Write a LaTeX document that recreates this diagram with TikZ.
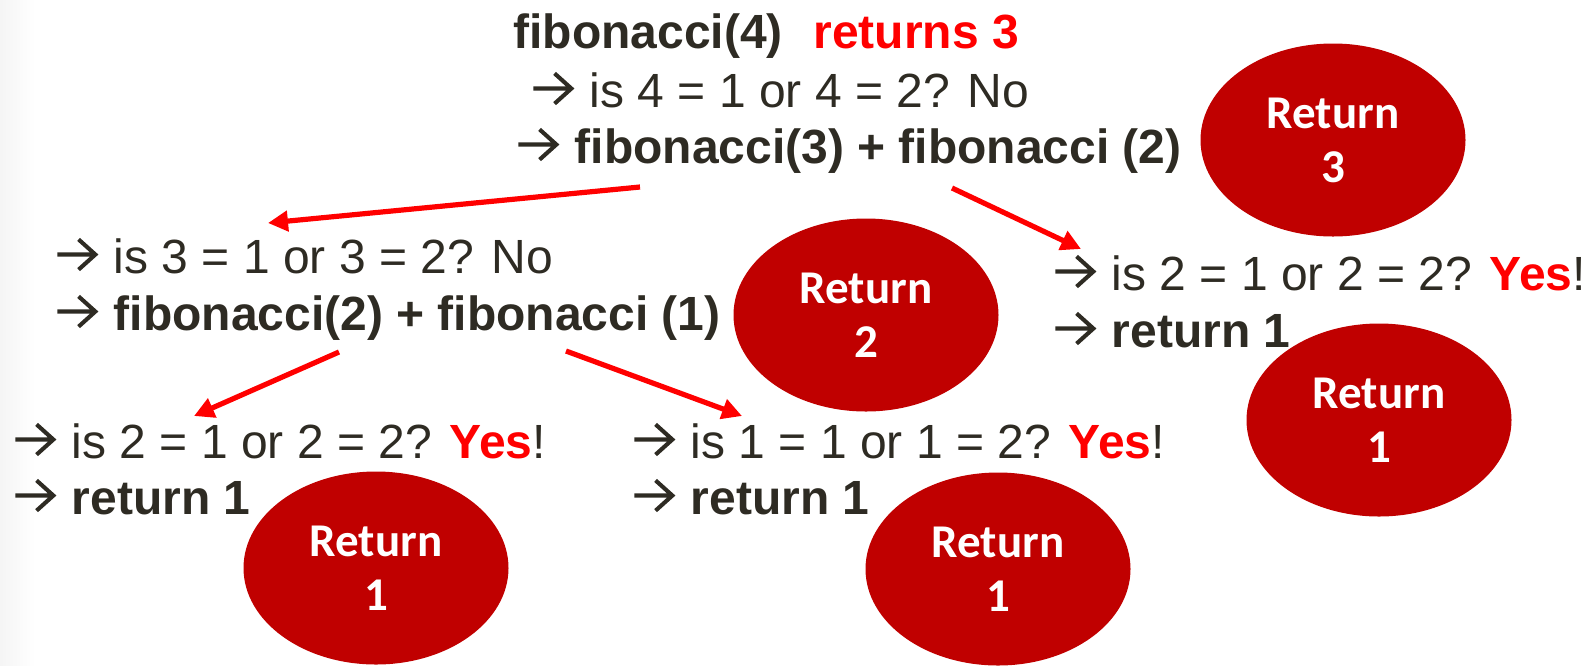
\documentclass[tikz,border=0pt]{standalone}
\usepackage{fontspec}
\setmainfont{Liberation Sans}
\newfontfamily\retfont{Carlito}
\usetikzlibrary{arrows.meta,shapes.geometric}
\definecolor{fbInk}{HTML}{2E2B23}
\definecolor{fbRed}{HTML}{FF0000}
\definecolor{fbDark}{HTML}{C00000}
% the small arrow in front of every step
\newcommand{\ra}{\tikz[x=1em,y=1em,baseline=0pt]
  \draw[fbInk,line width=0.085em,line cap=butt,line join=miter]
    (0,0.385) -- (0.78,0.385) (0.44,0.07) -- (0.79,0.385) -- (0.44,0.70);\hspace{0.34em}}
\newcommand{\yes}{\textcolor{fbRed}{\textbf{Yes}}}
\tikzset{
  txt/.style    ={anchor=base west,inner sep=0pt,text=fbInk,
                  font=\fontsize{24}{28}\selectfont},
  retell/.style ={ellipse,fill=fbDark,minimum width=132.5pt,minimum height=96.5pt,
                  inner sep=0pt,align=center,text=white,
                  font=\retfont\bfseries\fontsize{23.5}{27}\selectfont},
  call/.style   ={-{Triangle[length=10pt,width=10pt]},fbRed,line width=2.6pt},
}
\begin{document}
\begin{tikzpicture}[x=0.5pt,y=-0.5pt]
\useasboundingbox (0,0) rectangle (1583,665);
\shade[left color=black!4,right color=white] (0,0) rectangle (35,665);

%% return values
\node[retell] (ret3)  at (1333,140) {Return\\3};
\node[retell] (ret2)  at (866,315)  {Return\\2};
\node[retell] (retr)  at (1379,420) {Return\\1};
\node[retell] (retbl) at (376,568)  {Return\\1};
\node[retell] (retbm) at (998,569)  {Return\\1};

%% fibonacci(4)
\node[txt] (t1)  at (513,48) {\textbf{fibonacci(4)}};
\node[txt,text=fbRed] (t1r) at (813,48) {\textbf{returns 3}};
\node[txt] (t2)  at (531,107) {\ra is 4 = 1 or 4 = 2? No};
\node[txt] (t3)  at (516,163) {\ra\textbf{fibonacci(3) + fibonacci (2)}};

%% fibonacci(3)
\node[txt] (l1)  at (55,273) {\ra is 3 = 1 or 3 = 2? No};
\node[txt] (l2)  at (55,330) {\ra\textbf{fibonacci(2) + fibonacci (1)}};

%% fibonacci(2), right
\node[txt] (r1)  at (1053,290) {\ra is 2 = 1 or 2 = 2? \yes!};
\node[txt] (r2)  at (1053,347) {\ra\textbf{return 1}};

%% fibonacci(2), bottom
\node[txt] (bl1) at (13,458) {\ra is 2 = 1 or 2 = 2? \yes!};
\node[txt] (bl2) at (13,514) {\ra\textbf{return 1}};

%% fibonacci(1)
\node[txt] (bm1) at (632,458) {\ra is 1 = 1 or 1 = 2? \yes!};
\node[txt] (bm2) at (632,514) {\ra\textbf{return 1}};

%% calls
\coordinate (a1s) at (640,187); \coordinate (a1e) at (268,223);
\coordinate (a2s) at (952,188); \coordinate (a2e) at (1081,249);
\coordinate (a3s) at (339,352); \coordinate (a3e) at (194,416);
\coordinate (a4s) at (566,351); \coordinate (a4e) at (742,416);
\draw[call] (a1s) -- (a1e);
\draw[call] (a2s) -- (a2e);
\draw[call] (a3s) -- (a3e);
\draw[call] (a4s) -- (a4e);
\end{tikzpicture}
\end{document}
